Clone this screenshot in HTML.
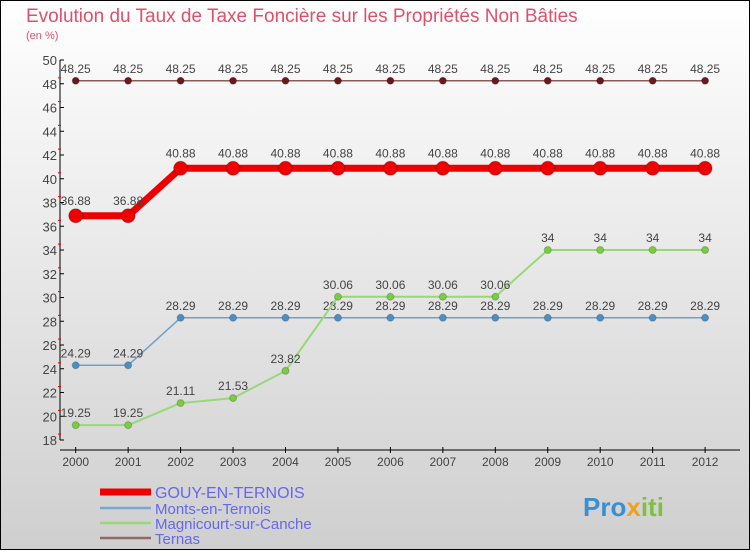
<!DOCTYPE html>
<html><head><meta charset="utf-8"><style>
html,body{margin:0;padding:0}
body{width:750px;height:550px;overflow:hidden;font-family:"Liberation Sans",sans-serif}
svg text{font-family:"Liberation Sans",sans-serif}
</style></head><body>
<svg width="750" height="550" viewBox="0 0 750 550" xmlns="http://www.w3.org/2000/svg">
<defs><linearGradient id="bg" x1="0" y1="0" x2="0" y2="1"><stop offset="0" stop-color="#ffffff"/><stop offset="1" stop-color="#cfcfcf"/></linearGradient></defs>
<rect x="0.5" y="0.5" width="749" height="549" fill="url(#bg)" stroke="#000"/>
<text x="26" y="22" font-size="19" fill="#e0506a">Evolution du Taux de Taxe Foncière sur les Propriétés Non Bâties</text>
<text x="26" y="39" font-size="11" fill="#e0506a">(en %)</text>
<g id="axes"></g><g id="series"></g><g id="legend"></g>
<text x="583" y="516" font-size="26" font-weight="bold" fill="#3a8fd0">Pro<tspan fill="#f0a020">x</tspan><tspan fill="#80c040">iti</tspan></text>
</svg>
<script>
const years=["2000","2001","2002","2003","2004","2005","2006","2007","2008","2009","2010","2011","2012"];
const gouy=[36.88,36.88,40.88,40.88,40.88,40.88,40.88,40.88,40.88,40.88,40.88,40.88,40.88];
const monts=[24.29,24.29,28.29,28.29,28.29,28.29,28.29,28.29,28.29,28.29,28.29,28.29,28.29];
const magni=[19.25,19.25,21.11,21.53,23.82,30.06,30.06,30.06,30.06,34,34,34,34];
const ternas=[48.25,48.25,48.25,48.25,48.25,48.25,48.25,48.25,48.25,48.25,48.25,48.25,48.25];
const yTicks=[18,20,22,24,26,28,30,32,34,36,38,40,42,44,46,48,50];
const NS="http://www.w3.org/2000/svg";
const X=i=>75.7+i*52.45, Y=v=>440-(v-18)*11.875;
function mk(t,a,p){const e=document.createElementNS(NS,t);for(const k in a)e.setAttribute(k,a[k]);p.appendChild(e);return e;}
const ax=document.getElementById('axes');
let l=mk('line',{x1:60,y1:60,x2:60,y2:440,stroke:'#000'},ax);


l=mk('line',{x1:60,y1:450,x2:740,y2:450,stroke:'#000'},ax);


yTicks.forEach(v=>{const y=Y(v);mk('line',{x1:60,y1:y,x2:64,y2:y,stroke:'#000'},ax);
 if(v<50)mk('line',{x1:58,y1:y-5.9,x2:61,y2:y-5.9,stroke:'#e00'},ax);
 const t=mk('text',{x:57,y:y+5,'text-anchor':'end','font-size':13,fill:'#444'},ax);t.textContent=v;
 
 });
years.forEach((yr,i)=>{const x=X(i);mk('line',{x1:x,y1:447,x2:x,y2:453,stroke:'#000'},ax);
 const t=mk('text',{x:x,y:466,'text-anchor':'middle','font-size':12,fill:'#444'},ax);t.textContent=yr;
 
 });
const sg=document.getElementById('series');
function series(name,data,color,w,r,dot,lab){
 const g=mk('g',{},sg);
 
 
 mk('polyline',{points:data.map((v,i)=>X(i)+','+Y(v)).join(' '),fill:'none',stroke:color,'stroke-width':w,'stroke-linejoin':'round'},g);
 data.forEach((v,i)=>{const c=mk('circle',{cx:X(i),cy:Y(v),r:r,fill:dot,stroke:'rgba(0,0,0,0.2)'},g);
  
  
  const t=mk('text',{x:X(i),y:Y(v)-8-(r>5?3:0),'text-anchor':'middle','font-size':12,fill:'#444'},g);t.textContent=String(v);
  
  });
}
series('ternas',ternas,'#8b5a5a',1.5,3.5,'#6a1a1a');
series('monts',monts,'#6fa0c8',1.5,3.5,'#4a90c8');
series('magnicourt',magni,'#98d878',2,3.5,'#7acc40');
series('gouy',gouy,'#ee0000',7,7,'#ee0000');
const lg=document.getElementById('legend');
[["GOUY-EN-TERNOIS","#ee0000",7,16,492],["Monts-en-Ternois","#7aa8cc",2.5,15,508],["Magnicourt-sur-Canche","#98d878",2.5,15,523],["Ternas","#906868",2.5,15,538]].forEach(d=>{
 const g=mk('g',{},lg);
 
 
 mk('line',{x1:100,y1:d[4],x2:151,y2:d[4],stroke:d[1],'stroke-width':d[2]},g);
 const t=mk('text',{x:155,y:d[4]+6,'font-size':d[3],fill:'#6666ee'},g);t.textContent=d[0];
});
</script>
</body></html>
